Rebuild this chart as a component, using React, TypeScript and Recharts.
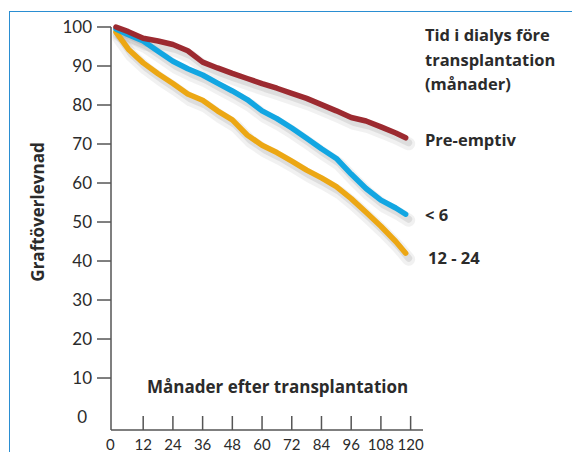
import React from "react";
import { LineChart, Line, XAxis, YAxis } from "recharts";

const months = [1, 6, 12, 18, 24, 30, 36, 42, 48, 54, 60, 66, 72, 78, 84, 90, 96, 102, 108, 114, 118];
const preEmptiv = [100, 98.8, 97.1, 96.4, 95.5, 93.9, 91, 89.5, 88.1, 86.8, 85.5, 84.3, 83, 81.7, 80.1, 78.5, 76.8, 75.9, 74.4, 72.8, 71.6];
const under6 = [99.5, 98, 96.4, 93.8, 91.2, 89.3, 87.7, 85.6, 83.6, 81.4, 78.5, 76.5, 74.1, 71.5, 68.8, 66.3, 62.3, 58.6, 55.6, 53.6, 52];
const m12to24 = [98.7, 94.3, 90.8, 88, 85.5, 82.8, 81.2, 78.5, 76.2, 72.3, 69.7, 67.8, 65.6, 63.3, 61.3, 59.1, 56, 52.5, 48.9, 45, 42];

const xTicks = [0, 12, 24, 36, 48, 60, 72, 84, 96, 108, 120];
const yTicks = [0, 10, 20, 30, 40, 50, 60, 70, 80, 90, 100];

const legendTitle = ["Tid i dialys före", "transplantation", "(månader)"];
const seriesLabels = ["Pre-emptiv", "< 6", "12 - 24"];
const xAxisTitle = "Månader efter transplantation";
const yAxisTitle = "Graftöverlevnad";

const data = months.map((m, i) => ({
  month: m,
  pre: preEmptiv[i],
  lt6: under6[i],
  mid: m12to24[i],
}));

const FONT = "Lato, 'Open Sans', sans-serif";
const BFONT = "'Open Sans', Lato, sans-serif";
const AXIS = "#555";
const TXT = "#2b2b2b";
const keys = ["mid", "lt6", "pre"];
const colors: Record<string, string> = { mid: "#eca714", lt6: "#12a6e2", pre: "#9c2a30" };

const XTick = (props: any) => {
  const { x, y, payload } = props;
  const v = payload.value;
  return (
    <g>
      {v !== 0 && <line x1={x} x2={x} y1={y - 14} y2={y} stroke={AXIS} strokeWidth={1.5} />}
      <text x={v === 0 ? x - 3 : x} y={y + 20} textAnchor="middle" fontSize={15} fill={TXT} fontFamily={FONT}>
        {v}
      </text>
    </g>
  );
};

const YTick = (props: any) => {
  const { x, y, payload } = props;
  const v = payload.value;
  return (
    <g>
      {v !== 0 && <line x1={x - 14} x2={x} y1={y} y2={y} stroke={AXIS} strokeWidth={1.5} />}
      <text x={v === 0 ? x - 24 : x - 19} y={y} dy="0.36em" textAnchor="end" fontSize={17} fill={TXT} fontFamily={FONT}>
        {v}
      </text>
    </g>
  );
};

const txt = (s: string, left: number, cy: number, size: number) => (
  <div
    style={{
      position: "absolute",
      left,
      top: cy - 12,
      fontFamily: BFONT,
      fontWeight: 700,
      fontSize: size,
      lineHeight: "24px",
      color: TXT,
      whiteSpace: "nowrap",
    }}
  >
    {s}
  </div>
);

export default function App() {
  return (
    <div className="shadowed" style={{ position: "absolute", left: 0, top: 0, width: 572, height: 452, background: "#fff", overflow: "hidden" }}>
      <style>{`.shadowed .shade1 path { transform: translate(3px, 6px); } .shadowed .shade2 path { transform: translate(3px, 5px); }`}</style>
      <div style={{ position: "absolute", left: 9, top: 11, width: 563, height: 441, borderLeft: "1.5px solid #2a8ed2", borderTop: "1.5px solid #2a8ed2" }} />
      <LineChart width={572} height={452} data={data} margin={{ top: 27, right: 149, bottom: 0, left: 0 }}>
        <XAxis
          dataKey="month"
          type="number"
          domain={[-1, 125]}
          ticks={xTicks}
          interval={0}
          height={22}
          tickSize={0}
          tickMargin={0}
          tickLine={false}
          axisLine={{ stroke: AXIS, strokeWidth: 1.5 }}
          tick={<XTick />}
        />
        <YAxis
          type="number"
          domain={[-3.33, 100]}
          ticks={yTicks}
          interval={0}
          width={111}
          tickSize={0}
          tickMargin={0}
          tickLine={false}
          axisLine={{ stroke: AXIS, strokeWidth: 1.5 }}
          tick={<YTick />}
        />
        {keys.map((k) => (
          <Line key={k + "s1"} className="shade1" dataKey={k} type="linear" stroke="#888" strokeOpacity={0.12} strokeWidth={13} strokeLinecap="round" strokeLinejoin="round" dot={false} activeDot={false} legendType="none" isAnimationActive={false} />
        ))}
        {keys.map((k) => (
          <Line key={k + "s2"} className="shade2" dataKey={k} type="linear" stroke="#777" strokeOpacity={0.16} strokeWidth={7} strokeLinecap="round" strokeLinejoin="round" dot={false} activeDot={false} legendType="none" isAnimationActive={false} />
        ))}
        {keys.map((k) => (
          <Line key={k} dataKey={k} type="linear" stroke={colors[k]} strokeWidth={5.5} strokeLinecap="round" strokeLinejoin="round" dot={false} isAnimationActive={false} />
        ))}
      </LineChart>
      {txt(legendTitle[0], 425, 35, 16.5)}
      {txt(legendTitle[1], 425, 60, 16.5)}
      {txt(legendTitle[2], 425, 84, 16.5)}
      {txt(seriesLabels[0], 425, 140, 16.5)}
      {txt(seriesLabels[1], 425, 215, 16.5)}
      {txt(seriesLabels[2], 428, 258, 16.5)}
      {txt(xAxisTitle, 147, 387, 17)}
      <div
        style={{
          position: "absolute",
          left: 38,
          top: 212,
          transform: "translate(-50%, -50%) rotate(-90deg)",
          fontFamily: BFONT,
          fontWeight: 700,
          fontSize: 17,
          lineHeight: "20px",
          color: TXT,
          whiteSpace: "nowrap",
        }}
      >
        {yAxisTitle}
      </div>
    </div>
  );
}
